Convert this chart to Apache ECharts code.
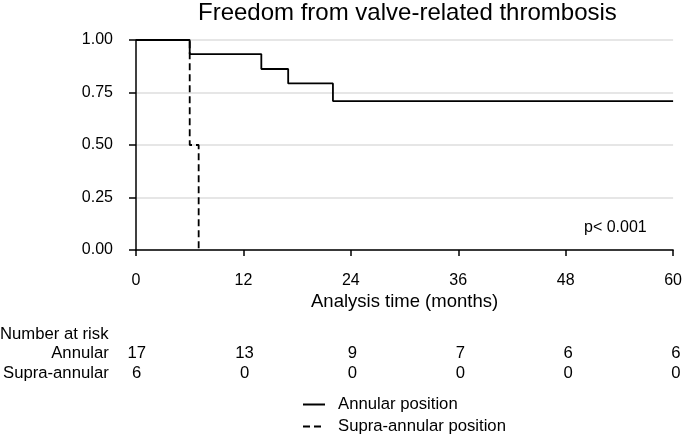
<!DOCTYPE html>
<html>
<head>
<meta charset="utf-8">
<script src="https://cdn.jsdelivr.net/npm/echarts@6/dist/echarts.min.js"></script>
<style>html,body{margin:0;padding:0;background:#fff}#c{width:685px;height:437px}</style>
</head>
<body>
<div id="c"></div>
<script>
const xTicks = [0, 12, 24, 36, 48, 60];
const yTicks = [0, 0.25, 0.5, 0.75, 1];
const annularTimes = [0, 6, 14, 17, 22, 60];
const annularSurv = [1, 0.933, 0.862, 0.793, 0.709, 0.709];
const supraTimes = [0, 6, 7];
const supraSurv = [1, 0.5, 0];
const riskGroups = ['Supra-annular', 'Annular'];
const riskAnnular = [17, 13, 9, 7, 6, 6];
const riskSupra = [6, 0, 0, 0, 0, 0];

const FONT = 'Liberation Sans';
const chart = echarts.init(document.getElementById('c'), null, {renderer: 'canvas'});
const riskData = [];
xTicks.forEach((t, i) => {
  riskData.push([t, 'Annular', riskAnnular[i]]);
  riskData.push([t, 'Supra-annular', riskSupra[i]]);
});
chart.setOption({
  animation: false,
  backgroundColor: '#fff',
  textStyle: {fontFamily: FONT},
  title: {
    text: 'Freedom from valve-related thrombosis',
    left: 198, top: 1, padding: 0,
    textStyle: {fontFamily: FONT, fontSize: 24, fontWeight: 'normal', color: '#000'}
  },
  legend: {
    orient: 'vertical', left: 302, top: 396, bottom: 0, padding: 0,
    itemWidth: 22, itemHeight: 14, itemGap: 5,
    itemStyle: {opacity: 0, borderWidth: 0},
    textStyle: {fontFamily: FONT, fontSize: 16.7, color: '#000', padding: [0, 0, 0, 8]},
    data: ['Annular position', 'Supra-annular position']
  },
  grid: [
    {left: 136, right: 9, top: 40, bottom: 187},
    {left: 136, right: 9, top: 343, height: 40}
  ],
  xAxis: [
    {
      type: 'value', min: 0, max: 60, interval: 12, offset: 11,
      axisLine: {show: true, lineStyle: {color: '#000', width: 1.5}},
      axisTick: {show: true, length: 6, lineStyle: {color: '#000', width: 1.5}},
      axisLabel: {color: '#000', fontSize: 16, fontFamily: FONT, margin: 12},
      splitLine: {show: false},
      name: 'Analysis time (months)', nameLocation: 'middle', nameGap: 31,
      nameTextStyle: {color: '#000', fontSize: 18.5, fontFamily: FONT}
    },
    {gridIndex: 1, type: 'value', min: 0, max: 60, show: false}
  ],
  yAxis: [
    {
      type: 'value', min: 0, max: 1, interval: 0.25, offset: 11,
      axisLine: {show: true, lineStyle: {color: '#000', width: 1.5}},
      axisTick: {show: true, length: 7, lineStyle: {color: '#000', width: 1.5}},
      axisLabel: {color: '#000', fontSize: 16, fontFamily: FONT, margin: 12,
        formatter: v => v.toFixed(2)},
      splitLine: {show: true, lineStyle: {color: '#e6e6e6', width: 1.8}}
    },
    {
      gridIndex: 1, type: 'category', data: riskGroups,
      axisLine: {show: false}, axisTick: {show: false}, splitLine: {show: false},
      axisLabel: {color: '#000', fontSize: 16.7, fontFamily: FONT, margin: 28, interval: 0}
    }
  ],
  graphic: [
    {type: 'text', left: 0, top: 326, style: {text: 'Number at risk', fill: '#000', font: '16.7px "Liberation Sans"'}},
    {type: 'text', left: 584, top: 220, style: {text: 'p< 0.001', fill: '#000', font: '16px "Liberation Sans"'}}
  ],
  series: [
    {
      name: 'Annular position', type: 'line', step: 'end', symbol: 'none',
      data: annularTimes.map((t, i) => [t, annularSurv[i]]),
      lineStyle: {color: '#000', width: 1.8, type: 'solid'},
      itemStyle: {color: '#000'}, z: 5
    },
    {
      name: 'Supra-annular position', type: 'line', step: 'end', symbol: 'none',
      data: supraTimes.map((t, i) => [t, supraSurv[i]]),
      lineStyle: {color: '#000', width: 1.8, type: [7, 4]},
      itemStyle: {color: '#000'}, z: 5
    },
    {
      type: 'scatter', xAxisIndex: 1, yAxisIndex: 1, symbolSize: 1,
      itemStyle: {color: 'rgba(255,255,255,0)'},
      data: riskData,
      label: {show: true, position: 'inside', color: '#000', opacity: 1,
        textBorderWidth: 0, fontSize: 16.7, fontFamily: FONT,
        formatter: p => String(p.value[2])},
      silent: true
    }
  ]
});
</script>
</body>
</html>
